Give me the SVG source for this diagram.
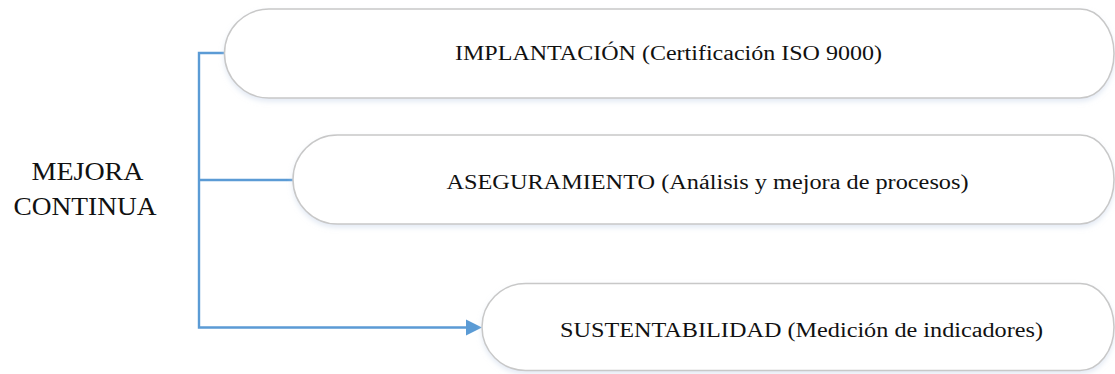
<svg xmlns="http://www.w3.org/2000/svg" width="1115" height="374" viewBox="0 0 1115 374">
  <style>
    .box { fill: #ffffff; stroke: #c8c8c8; stroke-width: 1.5; filter: url(#sh); }
    .lbl { font-family: "Liberation Serif", "Times New Roman", serif; font-size: 20px; fill: #111111; }
    .big { font-family: "Liberation Serif", "Times New Roman", serif; font-size: 26px; fill: #111111; }
    .conn { fill: none; stroke: #5B9BD5; stroke-width: 2.4; }
  </style>
  <defs>
    <filter id="sh" x="-5%" y="-20%" width="110%" height="150%">
      <feDropShadow dx="0" dy="3" stdDeviation="2.5" flood-color="#c9d6ea" flood-opacity="0.5"/>
    </filter>
  </defs>
  <rect width="1115" height="374" fill="#ffffff"/>

  <g id="connectors">
    <path class="conn" d="M224.5,53 H199 V327.5 H468"/>
    <path class="conn" d="M199,180 H293"/>
    <polygon points="466,319.5 482,327.5 466,335.5" fill="#5B9BD5"/>
  </g>

  <g id="node-mejora">
    <text class="big" x="31.5" y="180" textLength="112" lengthAdjust="spacingAndGlyphs">MEJORA</text>
    <text class="big" x="13.5" y="214.5" textLength="143" lengthAdjust="spacingAndGlyphs">CONTINUA</text>
  </g>

  <g id="node-implantacion">
    <path class="box" d="M269,9 H1080 A34,44.5 0 0 1 1114,53.5 A34,44.5 0 0 1 1080,98 H269 A44.5,44.5 0 0 1 224.5,53.5 A44.5,44.5 0 0 1 269,9 Z"/>
    <text class="lbl" x="455" y="60" textLength="427" lengthAdjust="spacingAndGlyphs">IMPLANTACIÓN (Certificación ISO 9000)</text>
  </g>

  <g id="node-aseguramiento">
    <path class="box" d="M337.5,135 H1080 A34,44.5 0 0 1 1114,179.5 A34,44.5 0 0 1 1080,224 H337.5 A44.5,44.5 0 0 1 293,179.5 A44.5,44.5 0 0 1 337.5,135 Z"/>
    <text class="lbl" x="446.5" y="188.5" textLength="522" lengthAdjust="spacingAndGlyphs">ASEGURAMIENTO (Análisis y mejora de procesos)</text>
  </g>

  <g id="node-sustentabilidad">
    <path class="box" d="M525.5,283.5 H1080 A34,43.5 0 0 1 1114,327 A34,43.5 0 0 1 1080,370.5 H525.5 A43.5,43.5 0 0 1 482,327 A43.5,43.5 0 0 1 525.5,283.5 Z"/>
    <text class="lbl" x="560" y="336.5" textLength="483" lengthAdjust="spacingAndGlyphs">SUSTENTABILIDAD (Medición de indicadores)</text>
  </g>
</svg>
